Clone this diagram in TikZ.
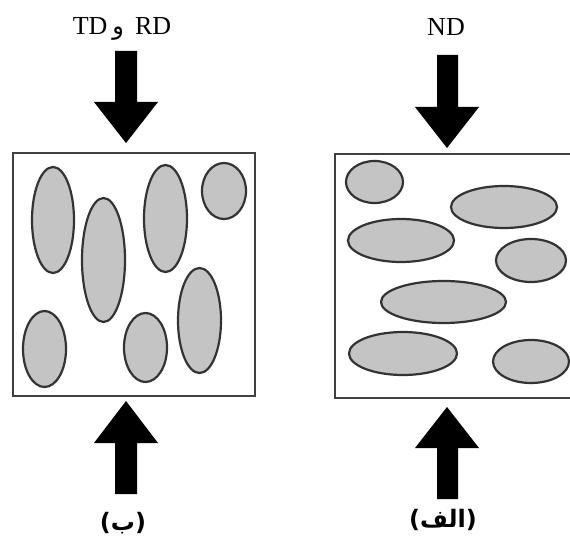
\documentclass[tikz,border=0pt]{standalone}
\usepackage{fontspec}
\setmainfont{Liberation Serif}
\newfontfamily\arabicfont[Script=Arabic]{DejaVu Sans}
\newfontfamily\arabicbold[Script=Arabic]{DejaVu Sans Bold}
\newfontfamily\parenbold{DejaVu Sans Bold}
\TeXXeTstate=1
\begin{document}
\begin{tikzpicture}[x=1pt,y=-1pt,
  boxframe/.style={draw=black!75,line width=1.8pt},
  grain/.style={draw=black!80,line width=2.2pt,fill=black!23},
  bigarrow/.style={fill=black,draw=none},
  latinlabel/.style={inner sep=0pt,anchor=base,font=\fontsize{26}{30}\selectfont},
  arablabel/.style={inner sep=0pt,anchor=base,font=\parenbold\fontsize{24}{28}\selectfont}]
\useasboundingbox (0,0) rectangle (570,537);
\begin{scope}
\clip (0,0) rectangle (570,537);
% left box (b)
\node[boxframe,minimum width=242pt,minimum height=243pt,inner sep=0pt,anchor=north west] (boxb) at (12,152) {};
\draw[grain] (53,220) ellipse [x radius=21, y radius=53];
\draw[grain] (103.5,260) ellipse [x radius=21.5, y radius=62];
\draw[grain] (165.5,218.5) ellipse [x radius=21.5, y radius=53.5];
\draw[grain] (224,191) ellipse [x radius=22, y radius=28];
\draw[grain] (199.5,320.5) ellipse [x radius=21.5, y radius=52.5];
\draw[grain] (44.5,349) ellipse [x radius=21.5, y radius=38];
\draw[grain] (145.5,347.5) ellipse [x radius=21.5, y radius=34.5];
% right box (alef)
\node[boxframe,minimum width=242pt,minimum height=244pt,inner sep=0pt,anchor=north west] (boxa) at (334,153) {};
\draw[grain] (374.5,182) ellipse [x radius=28.5, y radius=21];
\draw[grain] (504,207) ellipse [x radius=53, y radius=21];
\draw[grain] (401,240.5) ellipse [x radius=53, y radius=21.5];
\draw[grain] (531,260.5) ellipse [x radius=35, y radius=21.5];
\draw[grain] (443.5,302) ellipse [x radius=62.5, y radius=21];
\draw[grain] (403,353.5) ellipse [x radius=54, y radius=21.5];
\draw[grain] (531,361.5) ellipse [x radius=38, y radius=21.5];
\end{scope}
% arrows left
\fill[bigarrow] (115,51) -- (137,51) -- (137,102) -- (158,102) -- (126,143) -- (94,102) -- (115,102) -- cycle;
\fill[bigarrow] (115,494) -- (137,494) -- (137,443) -- (158,443) -- (126,401) -- (94,443) -- (115,443) -- cycle;
% arrows right
\fill[bigarrow] (437,55) -- (458,55) -- (458,107) -- (479,107) -- (447,148) -- (415,107) -- (437,107) -- cycle;
\fill[bigarrow] (437,499) -- (458,499) -- (458,448) -- (479,448) -- (447,407) -- (415,448) -- (437,448) -- cycle;
% labels
\node[latinlabel] (lblb) at (122,35) {TD\hspace{5pt}{\arabicfont\fontsize{24}{28}\selectfont\beginR و\endR}\hspace{11pt}RD};
\node[latinlabel] (lbla) at (446,36) {ND};
\node[arablabel] (capb) at (123,530) {({\arabicbold\beginR ب\endR})};
\node[arablabel] (capa) at (443,527) {({\arabicbold\beginR الف\endR})};
\end{tikzpicture}
\end{document}
